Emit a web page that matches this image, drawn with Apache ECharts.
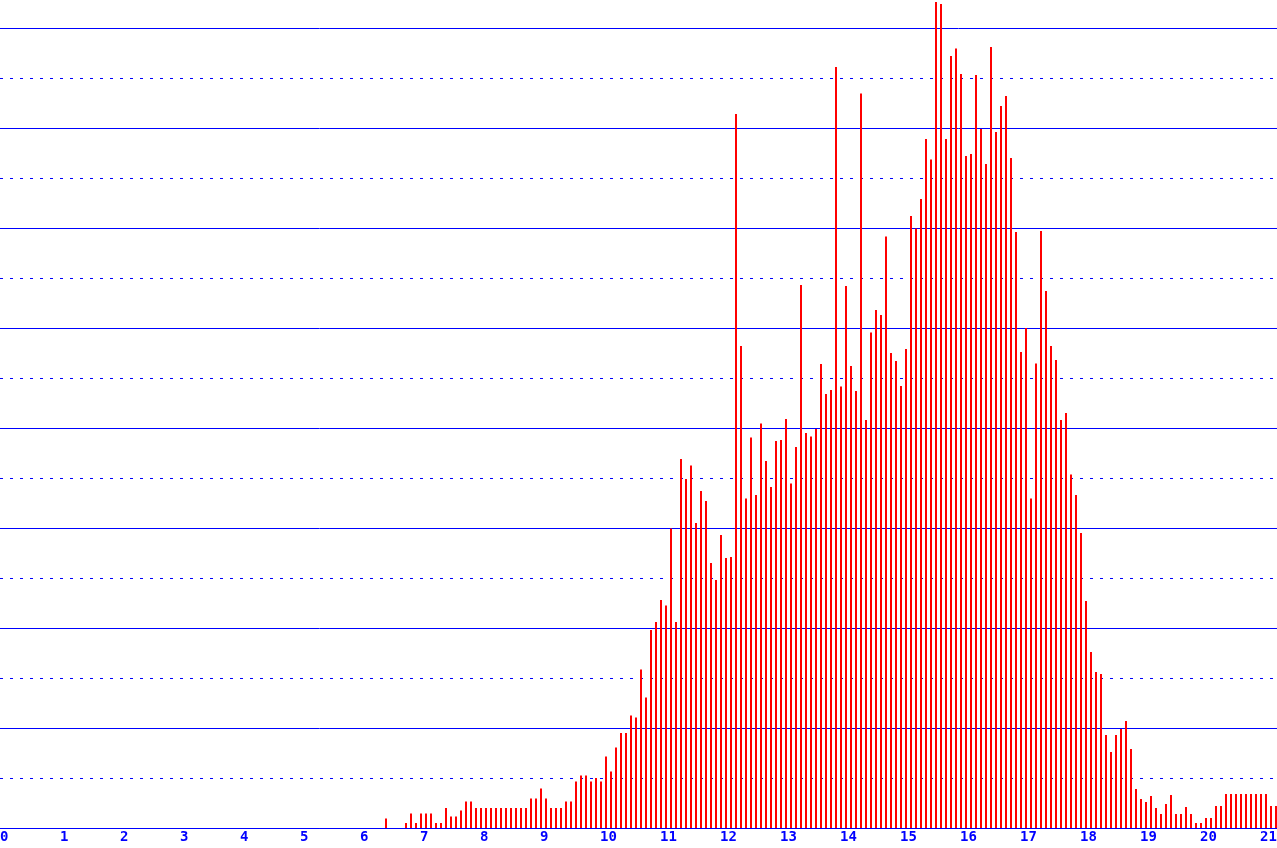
<!DOCTYPE html>
<html><head><meta charset="utf-8">
<script src="https://cdn.jsdelivr.net/npm/echarts@6/dist/echarts.min.js"></script>
<style>html,body{margin:0;padding:0;background:#fff}#chart{width:1277px;height:848px}</style>
</head><body><div id="chart"></div>
<script>
// histogram bins are 1/12 of an x unit wide; first drawn bin index
const binsPerUnit = 12;
const firstBin = 77;
const counts = [
  1.9, 0, 0, 0, 1, 2.9, 1, 2.9, 2.9, 2.9, 1, 1, 4, 2.3, 2.3, 3.5, 5.3, 5.3, 4, 4,
  4, 4, 4, 4, 4, 4, 4, 4, 4, 5.9, 5.9, 7.9, 5.9, 4, 4, 4, 5.3, 5.3, 9.3, 10.5,
  10.5, 9.3, 10, 9.3, 14.3, 11.3, 16.1, 19, 19, 22.5, 22.1, 31.7, 26.1, 39.6, 41.2, 45.6, 44.5, 59.9, 41.2, 73.8,
  69.8, 72.5, 61, 67.4, 65.4, 53, 49.6, 58.6, 54, 54.2, 142.8, 96.4, 65.9, 78.1, 66.6, 80.9, 73.4, 68.2, 77.4, 77.6,
  81.8, 68.9, 76.2, 108.6, 79, 78.3, 79.8, 92.8, 86.8, 87.6, 152.2, 88.3, 108.4, 92.4, 87.4, 146.9, 81.6, 99.1, 103.6, 102.6,
  118.3, 95, 93.4, 88.4, 95.8, 122.4, 119.9, 125.8, 137.8, 133.7, 165.2, 164.8, 137.8, 154.4, 155.9, 150.8, 134.4, 134.8, 150.6, 139.8,
  132.8, 156.2, 139.2, 144.4, 146.4, 134, 119.2, 95.2, 100, 65.9, 92.9, 119.4, 107.4, 96.4, 93.6, 81.6, 83, 70.7, 66.6, 59,
  45.4, 35.2, 31.2, 30.8, 18.6, 15.2, 18.6, 19.8, 21.4, 15.8, 7.8, 5.8, 5.2, 6.4, 4, 2.8, 4.8, 6.6, 2.8, 2.8,
  4.2, 2.8, 1, 1, 2, 2, 4.4, 4.4, 6.8, 6.8, 6.8, 6.8, 6.8, 6.8, 6.8, 6.8, 6.8, 4.4, 4.4
];
const xTicks = [0,1,2,3,4,5,6,7,8,9,10,11,12,13,14,15,16,17,18,19,20,21];

const pxPerUnit = 60;           // layout: 60 px per x unit
const barPx = 2;
const barShift = (barPx / 2) / pxPerUnit; // bars start at bin edge

const data = counts.map((c, i) => [(firstBin + i) / binsPerUnit + barShift, c]);

const chart = echarts.init(document.getElementById('chart'), null, {renderer: 'canvas'});
chart.setOption({
  animation: false,
  backgroundColor: '#ffffff',
  grid: {left: 0, right: -43, top: -72, bottom: 20, containLabel: false, outerBoundsMode: 'none'},
  xAxis: {
    type: 'value', min: 0, max: 22, interval: 1,
    axisLine: {show: true, lineStyle: {color: '#0000ff', width: 1}},
    axisTick: {show: false},
    splitLine: {show: false},
    axisLabel: {
      color: '#0000ff', fontFamily: 'DejaVu Sans Mono', fontWeight: 'bold', fontSize: 14,
      align: 'left', margin: 2, hideOverlap: false,
      formatter: v => xTicks.includes(v) ? String(v) : ''
    }
  },
  yAxis: [
    {
      type: 'value', min: 0, max: 180, interval: 20,
      axisLine: {show: false}, axisTick: {show: false}, axisLabel: {show: false},
      splitLine: {show: true, lineStyle: {color: '#0000ff', width: 1, type: 'solid'}}
    },
    {
      type: 'value', min: 0, max: 180, interval: 10, position: 'left',
      axisLine: {show: false}, axisTick: {show: false}, axisLabel: {show: false},
      splitLine: {show: true, lineStyle: {color: '#0000ff', width: 1, type: [3, 7]}}
    }
  ],
  series: [{
    type: 'bar', yAxisIndex: 0, barWidth: barPx, silent: true,
    itemStyle: {color: '#ff0000'},
    data: data
  }]
});
</script></body></html>
